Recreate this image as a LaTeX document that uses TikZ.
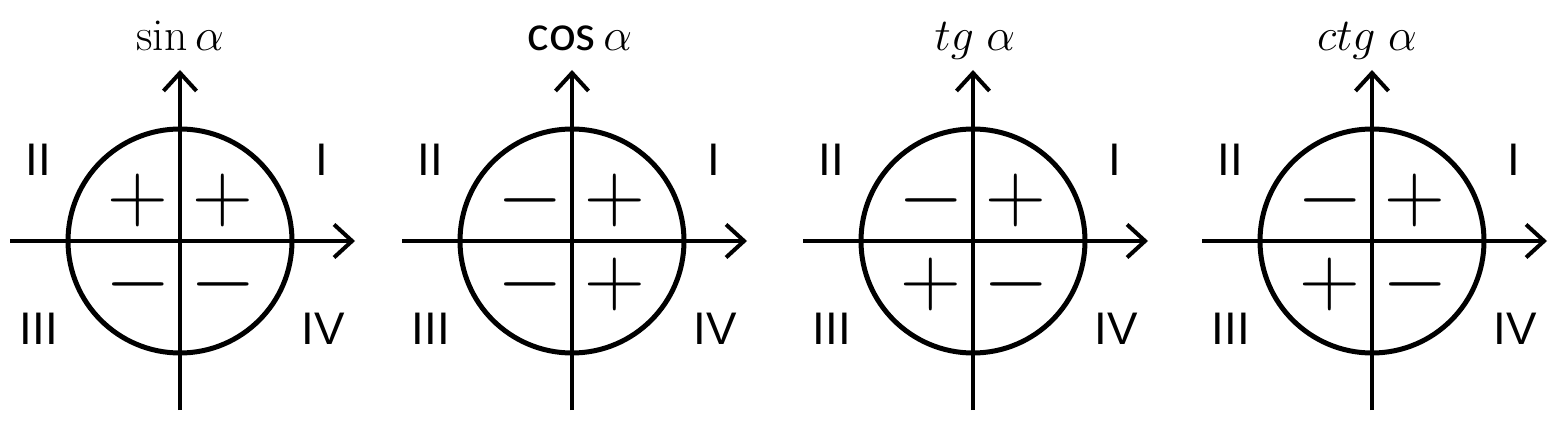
\RequirePackage{fix-cm}
\documentclass[tikz,border=0pt]{standalone}
\usepackage{fontspec}
\newfontfamily\quadfont{Liberation Sans}
\newfontfamily\cosfont{Carlito}
\usepackage{tikz}
\usetikzlibrary{arrows.meta,positioning}
\tikzset{
  axis/.style={line width=0.08cm, -{Straight Barb[length=0.36cm,width=0.66cm]}},
  unitcircle/.style={line width=0.1cm},
  quad/.style={inner sep=0, font=\quadfont\fontsize{26}{26}\selectfont},
  sign/.style={inner sep=0, font=\fontsize{48}{48}\selectfont},
  func/.style={inner sep=0, anchor=base, font=\fontsize{26}{26}\selectfont}
}

\begin{document}
\begin{tikzpicture}[x=0.02cm, y=-0.02cm]
\useasboundingbox (0,0) rectangle (1555,432);
\foreach \cx/\fx/\fn/\qa/\qb/\qc/\qd [count=\i] in {
  180/180/{$\sin\alpha$}/+/+/-/-,
  572/580/{{\cosfont\fontsize{29}{29}\selectfont cos}\,$\alpha$}/+/-/-/+,
  973/975/{$tg\;\alpha$}/+/-/+/-,
  1372/1367/{$ctg\;\alpha$}/+/-/+/-}
{
  \coordinate (O\i) at (\cx,241);
  \coordinate (W\i) at (\cx-170,241);
  \coordinate (E\i) at (\cx+175,241);
  \coordinate (S\i) at (\cx,410);
  \coordinate (N\i) at (\cx,70);
  \draw[unitcircle] (O\i) circle (112);
  \draw[axis] (W\i) -- (E\i);
  \draw[axis] (S\i) -- (N\i);
  \node[func] (f\i) at (\fx,51) {\fn};
  % quarter numbers
  \node[quad] (I\i) at (\cx+142,160) {I};
  \node[quad] (II\i) at (\cx-142,160) {II};
  \node[quad] (III\i) at (\cx-141,329) {III};
  \node[quad] (IV\i) at (\cx+143,329) {IV};
  % signs
  \node[sign] (qa\i) at (\cx+43,200) {$\qa$};
  \node[sign] (qb\i) at (\cx-42,200) {$\qb$};
  \node[sign] (qc\i) at (\cx-42,284) {$\qc$};
  \node[sign] (qd\i) at (\cx+43,284) {$\qd$};
}
\end{tikzpicture}
\end{document}
